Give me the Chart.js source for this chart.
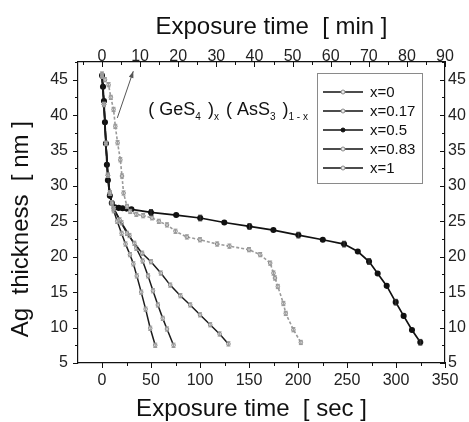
<!DOCTYPE html>
<html><head><meta charset="utf-8">
<script src="https://cdn.jsdelivr.net/npm/chart.js@4"></script>
<style>html,body{margin:0;padding:0;background:#fff;}#wrap{width:469px;height:422px;}</style>
</head><body><div id="wrap"><canvas id="c" width="469" height="422"></canvas></div>
<script>
// ---- data ----
const legendLabels = ['x=0', 'x=0.17', 'x=0.5', 'x=0.83', 'x=1'];

const secX0 = [0, 2, 4, 6, 8, 10, 12, 18, 25.5, 33, 41, 50, 60, 69.6, 80, 90, 100, 110.4, 120, 129];
const nmX0  = [45.5, 41.5, 36, 31.5, 29, 27.6, 26.8, 25.2, 23.3, 21.9, 20.5, 19.3, 17.7, 16.0, 14.5, 13.2, 11.8, 10.4, 9.1, 7.7];

const secX017 = [0, 3, 6.7, 9, 11.8, 13.6, 15.9, 18.7, 20.4, 22, 25.5, 28.8, 35, 42, 51, 58, 66.3, 75, 86.6, 100, 117.5, 130, 150, 161.4, 171.6, 175, 176.5, 179.4, 185.1, 187.5, 195.3, 202.9];
const nmX017  = [45.8, 45.0, 44.3, 42.5, 40.8, 38.4, 36.1, 33.7, 31.4, 29.0, 27.1, 26.4, 26.0, 25.8, 25.5, 25.0, 24.5, 23.6, 22.8, 22.4, 21.8, 21.5, 21.0, 20.3, 19.1, 17.7, 17.0, 15.8, 13.4, 12.0, 9.7, 7.9];

const secX05 = [0, 1, 2, 3, 4, 5, 6, 8, 10, 13, 17, 21, 25, 30, 50, 75.7, 100.2, 124.8, 150.5, 174.9, 200.4, 225.3, 247, 261, 272.5, 281.3, 290.5, 299.7, 307.8, 316.3, 324.8];
const nmX05  = [45.6, 44.0, 42.0, 39.0, 36.0, 33.0, 30.8, 28.6, 27.6, 27.0, 26.9, 26.85, 26.8, 26.7, 26.26, 25.89, 25.47, 24.84, 24.28, 23.77, 23.06, 22.40, 21.79, 20.74, 19.33, 17.63, 15.89, 13.59, 11.65, 9.67, 7.93];
const errX05 = [0, 0, 0, 0, 0, 0, 0, 0, 0, 0, 0, 0, 0, 0, 0.4, 0, 0.4, 0, 0.4, 0, 0.4, 0, 0.4, 0, 0.4, 0, 0, 0.4, 0, 0, 0.4];

const secX083 = [0, 2, 4, 6, 8, 10, 12, 20, 28, 35, 41.5, 47, 52, 57, 62, 66.3, 73];
const nmX083  = [45.5, 41.5, 36, 31.5, 29, 27.6, 26.8, 24.8, 23.0, 21.2, 19.4, 17.3, 15.2, 13.2, 11.3, 9.8, 7.5];

const secX1 = [0, 2, 4, 6, 8, 10, 12, 15.5, 20, 24, 28.5, 32, 35.5, 40, 44.5, 49.2, 54.3];
const nmX1  = [45.5, 41.5, 36, 31.5, 29, 27.6, 26.5, 25.0, 23.3, 21.8, 20.3, 19.0, 17.3, 15.0, 12.6, 9.9, 7.5];

const secTicks = [0, 50, 100, 150, 200, 250, 300, 350];
const minTicks = [0, 10, 20, 30, 40, 50, 60, 70, 80, 90];
const nmTicks  = [5, 10, 15, 20, 25, 30, 35, 40, 45];

function pts(xs, ys) { return xs.map((x, i) => ({ x: x, y: ys[i] })); }

const FONT = "'Liberation Sans', Arial, sans-serif";
const lightPt = { pointRadius: 1.8, pointBackgroundColor: '#e8e8e8', pointBorderColor: '#8a8a8a', pointBorderWidth: 1 };

const datasets = [
  Object.assign({ label: legendLabels[0], data: pts(secX0, nmX0), borderColor: '#1c1c1c', borderWidth: 1.5, errBar: 0.3 }, lightPt),
  Object.assign({ label: legendLabels[1], data: pts(secX017, nmX017), borderColor: '#9a9a9a', borderWidth: 1.6, borderDash: [3, 2], errBar: 0.3 }, lightPt),
  { label: legendLabels[2], data: pts(secX05, nmX05), borderColor: '#111', borderWidth: 1.7, pointRadius: 2.2, pointBackgroundColor: '#111', pointBorderColor: '#111', errArr: errX05 },
  Object.assign({ label: legendLabels[3], data: pts(secX083, nmX083), borderColor: '#1c1c1c', borderWidth: 1.5, errBar: 0.3 }, lightPt),
  Object.assign({ label: legendLabels[4], data: pts(secX1, nmX1), borderColor: '#1c1c1c', borderWidth: 1.5, errBar: 0.3 }, lightPt)
];
datasets.forEach(d => { d.showLine = true; d.tension = 0; d.fill = false; });

// ---- plugins ----
const tickMarks = {
  id: 'tickMarks',
  afterDraw(chart) {
    const ctx = chart.ctx, a = chart.chartArea;
    ctx.save();
    ctx.strokeStyle = '#111'; ctx.lineWidth = 1;
    const spec = [
      { id: 'x', half: 25, edge: a.bottom, dir: 1, hor: true },
      { id: 'x2', half: 5, edge: a.top, dir: 1, hor: true },
      { id: 'y', half: 2.5, edge: a.left, dir: -1, hor: false },
      { id: 'y2', half: 2.5, edge: a.right, dir: -1, hor: false }
    ];
    spec.forEach(s => {
      const sc = chart.scales[s.id];
      const vals = [];
      sc.ticks.forEach(t => { vals.push([t.value, 5]); vals.push([t.value + s.half, 3]); vals.push([t.value - s.half, 3]); });
      vals.forEach(([v, len]) => {
        if (v < sc.min - 1e-9 || v > sc.max + 1e-9) return;
        const p = Math.round(sc.getPixelForValue(v)) + 0.5;
        ctx.beginPath();
        if (s.hor) { ctx.moveTo(p, s.edge); ctx.lineTo(p, s.edge + s.dir * len); }
        else { ctx.moveTo(s.edge, p); ctx.lineTo(s.edge + s.dir * len, p); }
        ctx.stroke();
      });
    });
    ctx.restore();
  }
};

const errorBars = {
  id: 'errorBars',
  afterDatasetsDraw(chart) {
    const ctx = chart.ctx, ys = chart.scales.y;
    ctx.save();
    chart.data.datasets.forEach((ds, di) => {
      const meta = chart.getDatasetMeta(di);
      ctx.strokeStyle = ds.errArr ? '#333' : '#999';
      ctx.lineWidth = 1;
      meta.data.forEach((el, i) => {
        const e = ds.errArr ? ds.errArr[i] : ds.errBar;
        if (!e) return;
        const v = ds.data[i].y;
        const y1 = ys.getPixelForValue(v + e), y2 = ys.getPixelForValue(v - e);
        ctx.beginPath();
        ctx.moveTo(el.x, y1); ctx.lineTo(el.x, y2);
        ctx.moveTo(el.x - 2, y1); ctx.lineTo(el.x + 2, y1);
        ctx.moveTo(el.x - 2, y2); ctx.lineTo(el.x + 2, y2);
        ctx.stroke();
      });
    });
    ctx.restore();
  }
};

const boxLegend = {
  id: 'boxLegend',
  afterDraw(chart) {
    const ctx = chart.ctx;
    ctx.save();
    ctx.strokeStyle = '#8a8a8a'; ctx.lineWidth = 1;
    ctx.strokeRect(317.5, 73.5, 105, 110);
    ctx.font = '15px ' + FONT; ctx.fillStyle = '#111'; ctx.textBaseline = 'middle'; ctx.textAlign = 'left';
    chart.data.datasets.forEach((ds, i) => {
      const y = 92 + i * 19;
      ctx.strokeStyle = '#111'; ctx.lineWidth = 1.6; ctx.setLineDash([]);
      ctx.beginPath(); ctx.moveTo(323, y); ctx.lineTo(363, y); ctx.stroke();
      ctx.beginPath(); ctx.arc(343, y, 2, 0, Math.PI * 2);
      ctx.fillStyle = ds.pointBackgroundColor; ctx.fill();
      ctx.strokeStyle = ds.pointBorderColor; ctx.lineWidth = 1; ctx.stroke();
      ctx.fillStyle = '#111';
      ctx.fillText(ds.label, 370, y + 1);
    });
    ctx.restore();
  }
};

const formula = {
  id: 'formula',
  afterDraw(chart) {
    const ctx = chart.ctx, xs = chart.scales.x, ys = chart.scales.y;
    ctx.save();
    const ax1 = xs.getPixelForValue(15.6), ay1 = ys.getPixelForValue(39.6);
    const ax2 = xs.getPixelForValue(31.9), ay2 = ys.getPixelForValue(46.2);
    ctx.strokeStyle = '#555'; ctx.fillStyle = '#555'; ctx.lineWidth = 1;
    ctx.beginPath(); ctx.moveTo(ax1, ay1); ctx.lineTo(ax2, ay2); ctx.stroke();
    const ang = Math.atan2(ay2 - ay1, ax2 - ax1);
    ctx.beginPath();
    ctx.moveTo(ax2, ay2);
    ctx.lineTo(ax2 - 7 * Math.cos(ang - 0.35), ay2 - 7 * Math.sin(ang - 0.35));
    ctx.lineTo(ax2 - 7 * Math.cos(ang + 0.35), ay2 - 7 * Math.sin(ang + 0.35));
    ctx.closePath(); ctx.fill();
    let x = xs.getPixelForValue(47.3);
    const y = ys.getPixelForValue(40.0);
    ctx.fillStyle = '#111'; ctx.textBaseline = 'alphabetic'; ctx.textAlign = 'left';
    const parts = [['( GeS', 0], ['4', 1], [' )', 0], ['x', 1], [' ( AsS', 0], ['3', 1], [' )', 0], ['1 - x', 1]];
    parts.forEach(([t, sub]) => {
      ctx.font = (sub ? '10px ' : '18px ') + FONT;
      ctx.fillText(t, x, sub ? y + 5 : y);
      x += ctx.measureText(t).width + (sub ? 2 : 0);
    });
    ctx.restore();
  }
};

const tickFont = { family: FONT, size: 16 };
const titleFont = { family: FONT, size: 24, lineHeight: 1 };

function fix(prop, v) { return function (scale) { scale[prop] = v; }; }
function setTicks(arr) { return function (scale) { scale.ticks = arr.map(v => ({ value: v })); }; }

new Chart(document.getElementById('c'), {
  type: 'scatter',
  data: { datasets: datasets },
  plugins: [errorBars, tickMarks, boxLegend, formula],
  options: {
    responsive: false, animation: false, devicePixelRatio: 1,
    layout: { padding: 0 },
    plugins: { legend: { display: false }, tooltip: { enabled: false } },
    scales: {
      x: {
        type: 'linear', position: 'bottom', min: -24.5, max: 350,
        afterBuildTicks: setTicks(secTicks), afterFit: fix('height', 59),
        grid: { drawOnChartArea: false, drawTicks: false },
        border: { display: true, color: '#111', width: 1.2 },
        ticks: { font: tickFont, color: '#222', padding: 8, maxRotation: 0 },
        title: { display: true, text: 'Exposure time  [ sec ]   ', font: titleFont, color: '#111', padding: { top: 0, bottom: 1 } }
      },
      x2: {
        type: 'linear', position: 'top', min: -24.5 * 90 / 350, max: 90,
        afterBuildTicks: setTicks(minTicks), afterFit: fix('height', 62),
        grid: { drawOnChartArea: false, drawTicks: false },
        border: { display: true, color: '#111', width: 1.2 },
        ticks: { font: tickFont, color: '#222', padding: -4, maxRotation: 0 },
        title: { display: true, text: '   Exposure time  [ min ]', font: titleFont, color: '#111', padding: { top: 15, bottom: 0 } }
      },
      y: {
        type: 'linear', position: 'left', min: 5, max: 47.5,
        afterBuildTicks: setTicks(nmTicks), afterFit: fix('width', 78),
        grid: { drawOnChartArea: false, drawTicks: false },
        border: { display: true, color: '#111', width: 1.2 },
        ticks: { font: tickFont, color: '#222', padding: 10 },
        title: { display: true, text: 'Ag  thickness  [ nm ]     ', font: titleFont, color: '#111', padding: { top: 9, bottom: 0 } }
      },
      y2: {
        type: 'linear', position: 'right', min: 5, max: 47.5,
        afterBuildTicks: setTicks(nmTicks), afterFit: fix('width', 24),
        grid: { drawOnChartArea: false, drawTicks: false },
        border: { display: true, color: '#111', width: 1.2 },
        ticks: { font: tickFont, color: '#222', padding: 3 }
      }
    }
  }
});
</script>
</body></html>
